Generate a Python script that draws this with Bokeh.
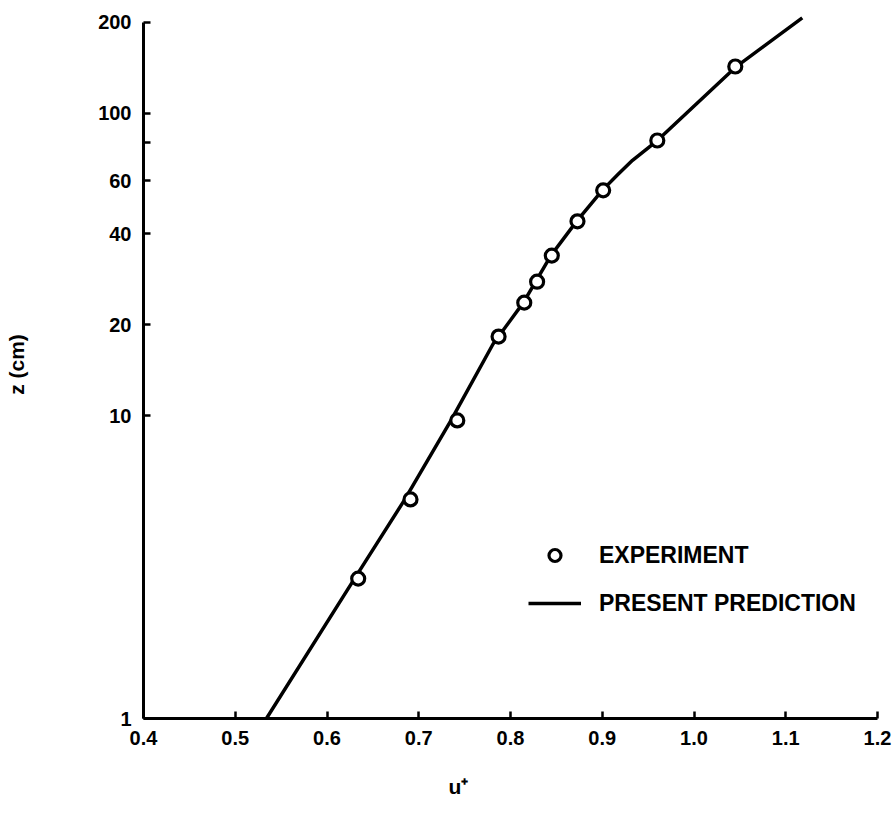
from bokeh.plotting import figure
from bokeh.models import (FixedTicker, PrintfTickFormatter, CustomJSTickFormatter,
                          Range1d, Legend, LegendItem, Title)
from bokeh.embed import file_html
from bokeh.resources import INLINE

# Experiment points (u+, z in cm)
exp_u = [0.634, 0.691, 0.742, 0.787, 0.815, 0.829, 0.845, 0.873, 0.901, 0.960, 1.045]
exp_z = [2.90, 5.30, 9.67, 18.3, 23.7, 27.8, 33.9, 44.0, 55.7, 81.4, 143.0]

# Present prediction curve
pred_u = [0.534, 0.630, 0.684, 0.735, 0.781, 0.814, 0.844, 0.872, 0.900, 0.917, 0.933, 0.960, 1.045, 1.118]
pred_z = [1.0, 2.90, 5.25, 9.65, 17.3, 23.7, 33.9, 44.0, 55.7, 62.8, 70.0, 81.4, 142.0, 207.0]

x_ticks = [0.4, 0.5, 0.6, 0.7, 0.8, 0.9, 1.0, 1.1, 1.2]
y_ticks = [1, 10, 20, 40, 60, 80, 100, 200]

FONT = "Liberation Sans"

p = figure(width=895, height=824, output_backend="svg", toolbar_location=None,
           y_axis_type="log",
           x_range=Range1d(0.4, 1.2), y_range=Range1d(1, 219))
p.min_border_left = 143
p.min_border_right = 18
p.min_border_top = 10
p.min_border_bottom = 106
p.outline_line_color = None
p.grid.visible = False
p.background_fill_color = "white"
p.border_fill_color = "white"

line_r = p.line(pred_u, pred_z, line_color="black", line_width=3.5)
pts_r = p.scatter(exp_u, exp_z, marker="circle", size=13, fill_color="white",
                  line_color="black", line_width=3.2)

for ax in (p.xaxis[0], p.yaxis[0]):
    ax.axis_line_width = 3
    ax.axis_line_color = "black"
    ax.major_tick_in = 7
    ax.major_tick_out = 0
    ax.major_tick_line_width = 2.5
    ax.major_tick_line_color = "black"
    ax.minor_tick_line_color = None
    ax.major_label_text_font = FONT
    ax.major_label_text_font_style = "bold"
    ax.major_label_text_font_size = "20px"
    ax.major_label_text_color = "black"
    ax.axis_label_text_font = FONT
    ax.axis_label_text_font_style = "bold"
    ax.axis_label_text_color = "black"

xa = p.xaxis[0]
xa.ticker = FixedTicker(ticks=x_ticks)
xa.formatter = PrintfTickFormatter(format="%.1f")
xa.major_label_standoff = 12

ya = p.yaxis[0]
ya.ticker = FixedTicker(ticks=y_ticks)
ya.formatter = CustomJSTickFormatter(code="return (Math.round(tick) == 80) ? '' : String(Math.round(tick));")
ya.bounds = (1, 200)
ya.major_label_standoff = 12
ya.axis_label = "z (cm)"
ya.axis_label_text_font_size = "21px"
ya.axis_label_standoff = 67

xtitle = Title(text="u⁺", align="left", offset=305, standoff=50,
               vertical_align="bottom",
               text_font=FONT, text_font_style="bold", text_font_size="21px",
               text_color="black")
p.add_layout(xtitle, "below")

legend = Legend(items=[LegendItem(label="EXPERIMENT", renderers=[pts_r]),
                       LegendItem(label="PRESENT PREDICTION", renderers=[line_r])],
                location=(385, 100), orientation="vertical",
                padding=0, margin=0, spacing=18,
                glyph_width=53, glyph_height=30, label_height=30,
                label_standoff=18,
                label_text_font=FONT, label_text_font_style="bold",
                label_text_font_size="23px", label_text_color="black",
                border_line_color=None, background_fill_alpha=0)
p.add_layout(legend)

open("out.html", "w").write(file_html(p, INLINE))
